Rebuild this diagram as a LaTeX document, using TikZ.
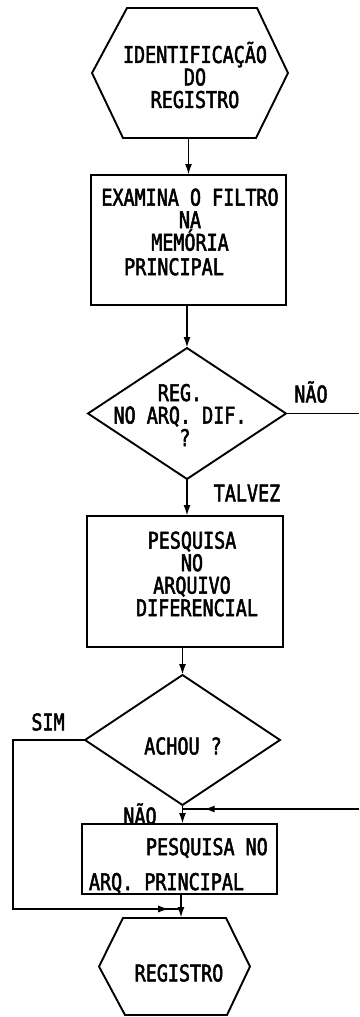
\documentclass[tikz,border=0pt]{standalone}
\usepackage{fontspec}
\newfontfamily\flowfont[FakeStretch=0.8,FakeBold=2.2]{DejaVu Sans Mono}
\usetikzlibrary{shapes.geometric,arrows.meta,calc}
\begin{document}
\begin{tikzpicture}[x=1pt,y=-1pt, line width=1.9pt,
  >={Latex[length=11pt,width=7pt]},
  lbl/.style={font=\flowfont\fontsize{23}{22.5}\selectfont, inner sep=0pt, align=center},
  boxnode/.style={draw, rectangle, inner sep=0pt, outer sep=0pt},
  decision/.style={draw, diamond, inner sep=0pt, outer sep=0pt},
  hexholder/.style={rectangle, inner sep=0pt, outer sep=0pt}]
\useasboundingbox (0,0) rectangle (359,1017);

% start hexagon
\node[hexholder, minimum width=196pt, minimum height=130pt] (h1) at (190,73) {};
\draw ($(h1.north west)+(35,0)$) -- ($(h1.north east)+(-31,0)$) -- (h1.east)
  -- ($(h1.south east)+(-32,0)$) -- ($(h1.south west)+(31,0)$) -- (h1.west) -- cycle;
\node[lbl] (t1) at (195,75) {IDENTIFICAÇÃO\\DO\\REGISTRO};

% box 2
\node[boxnode, minimum width=195pt, minimum height=130pt] (b2) at (188.5,240) {};
\node[lbl] (t2) at (190,232) {EXAMINA O FILTRO\\NA\\MEMÓRIA\hspace*{8pt}\\[2pt]PRINCIPAL\hspace*{32pt}};

% decision 1
\node[decision, minimum width=198pt, minimum height=131pt] (d1) at (187,413.5) {};
\node[lbl] (t3) at (180,415) {REG.\\NO ARQ. DIF.\\\hspace*{10pt}?};

% box 3
\node[boxnode, minimum width=196pt, minimum height=131pt] (b3) at (185,581.5) {};
\node[lbl] (t4) at (192,574) {PESQUISA\\NO\\ARQUIVO\hspace*{14pt}\\\hspace*{10pt}DIFERENCIAL};

% decision 2
\node[decision, minimum width=195pt, minimum height=130pt] (d2) at (182.5,740) {};
\node[lbl] (t5) at (183,746) {ACHOU ?};

% box 4
\node[boxnode, minimum width=195pt, minimum height=70pt] (b4) at (179.5,859) {};
\node[lbl, anchor=west] (t6a) at (145,848) {PESQUISA NO};
\node[lbl, anchor=west] (t6b) at (88,883) {ARQ. PRINCIPAL};

% end hexagon
\node[hexholder, minimum width=151pt, minimum height=97pt] (h2) at (174.5,966.5) {};
\draw ($(h2.north west)+(24,0)$) -- ($(h2.north east)+(-24,0)$) -- (h2.east)
  -- ($(h2.south east)+(-23,0)$) -- ($(h2.south west)+(26,0)$) -- (h2.west) -- cycle;
\node[lbl] (t7) at (179,973) {REGISTRO};

% labels
\node[lbl] (l1) at (311,392) {NÃO};
\node[lbl] (l2) at (247,493) {TALVEZ};
\node[lbl] (l3) at (48,722) {SIM};
\node[lbl] (l4) at (140,814) {NÃO};

% connectors
\draw[->] (b2.north |- h1.south) -- (b2.north);
\draw[->] (d1.north |- b2.south) -- (d1.north);
\coordinate (e1) at (359,413.5);
\draw (d1.east) -- (e1);
\draw[->] (d1.south) -- (d1.south |- b3.north);
\draw[->] (d2.north |- b3.south) -- (d2.north);
\coordinate (e2) at (359,809);
\coordinate (j1) at (d2.south |- e2);
\draw (e2) -- (j1);
\draw[->] (e2) -- ($(e2)!0.88!(j1)$);
\draw[->] (d2.south) -- (d2.south |- b4.north);
\coordinate (s1) at (13,740);
\coordinate (s2) at (13,909);
\coordinate (j2) at (181,909);
\draw (d2.west) -- (s1) -- (s2) -- (j2);
\draw[->] (s2) -- ($(s2)!0.93!(j2)$);
\draw[->] (j2 |- b4.south) -- (j2 |- h2.north);
\end{tikzpicture}
\end{document}
